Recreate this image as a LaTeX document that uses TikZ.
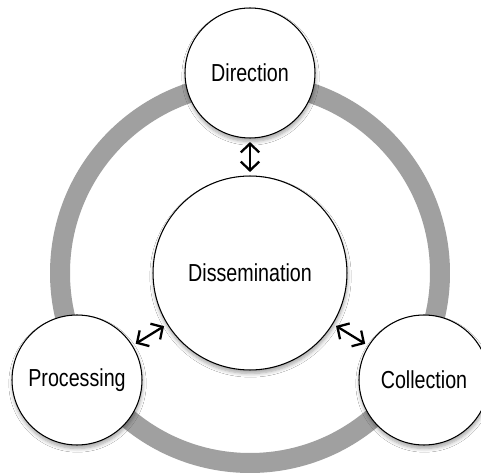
\documentclass[tikz,border=0pt]{standalone}
\usepackage{fontspec}
\setmainfont[FakeStretch=0.8]{Liberation Sans}
\usepackage{tikz}
\usetikzlibrary{arrows.meta,shadows.blur}
\definecolor{ringgray}{RGB}{160,160,160}

\begin{document}
\begin{tikzpicture}[
  x=0.02cm, y=0.02cm,
  every node/.style={font=\fontsize{14}{16}\selectfont},
  phase/.style={circle, draw=black, line width=0.6pt, fill=white,
    minimum size=2.6cm, inner sep=0pt,
    blur shadow={shadow xshift=0.3pt, shadow yshift=-2pt, shadow blur steps=6, shadow opacity=35}},
  link/.style={{Straight Barb[length=5pt,width=10.5pt]}-{Straight Barb[length=5pt,width=10.5pt]},
    line width=1.3pt, shorten <=2pt, shorten >=2pt}
]
\useasboundingbox (0,0) rectangle (481,474);
\fill[white] (0,0) rectangle (481,474);

% outer cycle
\draw[ringgray, line width=0.4cm] (250,201) circle (190);

\node[phase, minimum size=3.88cm] (dis) at (250,201) {Dissemination};
\node[phase] (dir) at (250,401) {Direction};
\node[phase] (pro) at (77,94) {Processing};
\node[phase] (col) at (424,94) {Collection};

\draw[link] (dir) -- (dis);
\draw[link] (pro) -- (dis);
\draw[link] (col) -- (dis);
\end{tikzpicture}
\end{document}
